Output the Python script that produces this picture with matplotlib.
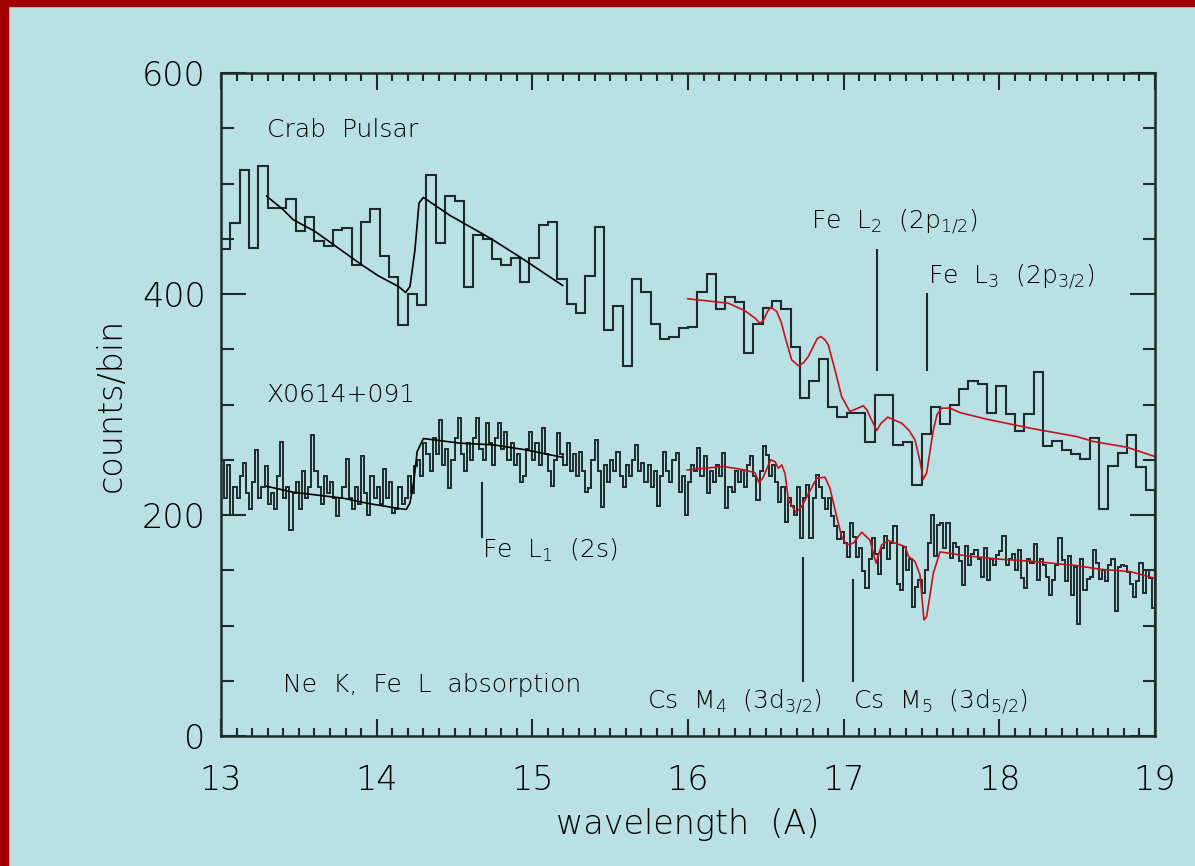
import numpy as np
import matplotlib
matplotlib.use("Agg")
import matplotlib.pyplot as plt
from matplotlib.patches import Rectangle
from matplotlib.ticker import MultipleLocator

plt.rcParams['font.family'] = ['DejaVu Sans']
plt.rcParams['font.weight'] = 'light'
plt.rcParams['axes.labelweight'] = 'light'
plt.rcParams['mathtext.fontset'] = 'custom'
plt.rcParams['mathtext.rm'] = 'DejaVu Sans:light'
plt.rcParams['mathtext.it'] = 'DejaVu Sans:light'

BG = '#b9e0e3'
INK = '#1e2b2b'
RED = '#c8101e'

# Crab pulsar, 0.06 A bins starting at 12.94
crab_start = 12.94
crab_width = 0.06
crab_counts = [476,
    441, 464, 512, 442, 516, 478, 478, 486, 457, 470,
    448, 443, 458, 460, 426, 465, 477, 434, 415, 372,
    400, 390, 508, 446, 489, 484, 406, 453, 450, 432,
    426, 433, 411, 433, 462, 465, 414, 391, 383, 416,
    461, 367, 389, 335, 414, 402, 373, 359, 361, 369,
    370, 402, 418, 386, 397, 393, 347, 373, 387, 394,
    386, 352, 306, 321, 341, 298, 289, 292, 292, 266,
    309, 309, 263, 266, 227, 273, 298, 282, 300, 314,
    321, 319, 292, 317, 291, 276, 291, 329, 262, 267,
    259, 255, 251, 270, 205, 244, 256, 272, 243, 223]

# X0614+091, 0.02 A bins starting at 13.00
x0614_start = 13.00
x0614_width = 0.02
x0614_counts = [
    250, 215, 245, 200, 225, 215, 235, 247, 220, 205,
    230, 259, 215, 225, 244, 210, 220, 205, 235, 266,
    215, 225, 186, 220, 230, 205, 240, 215, 225, 272,
    240, 225, 210, 235, 220, 230, 215, 199, 215, 225,
    251, 215, 205, 225, 210, 253, 220, 200, 235, 215,
    225, 210, 242, 215, 230, 202, 205, 225, 210, 215,
    235, 220, 244, 250, 235, 265, 255, 240, 270, 255,
    286, 245, 260, 224, 250, 270, 288, 255, 240, 265,
    250, 270, 288, 260, 250, 283, 265, 245, 270, 283,
    260, 275, 250, 265, 245, 255, 230, 235, 260, 275,
    250, 265, 245, 279, 255, 240, 226, 250, 274, 255,
    245, 265, 240, 255, 235, 257, 240, 221, 224, 250,
    268, 240, 207, 245, 230, 250, 240, 257, 235, 225,
    245, 235, 250, 263, 240, 247, 230, 245, 225, 240,
    208, 235, 257, 240, 230, 250, 256, 221, 235, 200,
    230, 245, 240, 261, 235, 253, 220, 240, 230, 245,
    235, 256, 206, 225, 221, 240, 230, 241, 225, 245,
    253, 235, 214, 240, 262, 254, 235, 245, 230, 212,
    225, 194, 215, 208, 200, 225, 179, 215, 227, 179,
    215, 236, 225, 215, 205, 215, 199, 190, 178, 185,
    175, 162, 193, 180, 162, 170, 149, 134, 160, 179,
    165, 147, 170, 181, 160, 175, 190, 138, 132, 171,
    150, 160, 117, 135, 141, 129, 150, 175, 200, 163,
    191, 193, 170, 193, 161, 175, 171, 158, 137, 172,
    155, 165, 168, 160, 144, 170, 141, 160, 155, 164,
    167, 181, 155, 160, 165, 150, 168, 143, 134, 160,
    157, 174, 141, 160, 155, 144, 128, 141, 155, 179,
    159, 140, 163, 128, 153, 101, 160, 132, 142, 144,
    168, 157, 142, 150, 140, 155, 160, 113, 153, 155,
    154, 148, 138, 126, 140, 157, 129, 150, 143, 116]

# continuum fits (black) and edge models (red)
crab_fit_x = [13.293, 13.40, 13.464, 13.604, 13.904, 14.01, 14.14, 14.186,
              14.214, 14.246, 14.272, 14.30, 14.471, 14.728, 14.921, 15.195]
crab_fit_y = [488.6, 476.2, 467.2, 456.6, 426.4, 416.5, 406.8, 401.4,
              406.8, 440.0, 482.3, 487.4, 471.1, 450.6, 433.4, 407.7]

crab_mod_x = [15.998, 16.259, 16.366, 16.43, 16.462, 16.484, 16.51, 16.533,
              16.57, 16.60, 16.623, 16.666, 16.709, 16.74, 16.773, 16.81,
              16.83, 16.854, 16.88, 16.901, 16.944, 16.987, 17.04, 17.08,
              17.126, 17.15, 17.169, 17.212, 17.24, 17.283, 17.373, 17.42,
              17.458, 17.491, 17.511, 17.533, 17.555, 17.576, 17.60, 17.63,
              17.683, 17.747, 17.919, 18.197, 18.497, 18.604, 18.818, 19.0]
crab_mod_y = [395.7, 391.7, 384.8, 378.2, 373.6, 376.0, 384.0, 388.1,
              384.2, 374.0, 361.5, 340.4, 335.0, 337.5, 343.4, 354.0,
              359.5, 361.5, 358.5, 354.0, 331.4, 307.2, 293.6, 296.0,
              298.8, 295.0, 289.1, 276.4, 283.0, 288.5, 283.1, 276.5,
              268.0, 248.4, 232.4, 237.8, 258.0, 277.0, 291.0, 296.7,
              296.7, 292.7, 286.7, 278.6, 271.0, 266.5, 261.4, 252.9]

x0614_fit_x = [13.293, 13.464, 13.786, 13.936, 14.128, 14.19, 14.214, 14.24,
               14.26, 14.30, 14.535, 14.75, 14.96, 15.19]
x0614_fit_y = [226.0, 220.6, 215.2, 210.7, 206.2, 205.0, 211.0, 231.8,
               257.4, 269.2, 265.0, 263.5, 258.9, 252.3]

x0614_mod_x = [15.995, 16.227, 16.334, 16.43, 16.456, 16.48, 16.531, 16.559,
               16.58, 16.602, 16.623, 16.645, 16.694, 16.73, 16.827, 16.88,
               16.912, 16.955, 16.987, 17.019, 17.062, 17.116, 17.169, 17.208,
               17.244, 17.287, 17.394, 17.416, 17.458, 17.49, 17.516, 17.533,
               17.576, 17.619, 17.79, 18.004, 18.218, 18.497, 18.647, 18.84, 19.0]
x0614_mod_y = [240.8, 243.9, 241.5, 238.4, 229.3, 233.3, 249.9, 248.4,
               242.3, 245.3, 237.8, 213.7, 202.2, 207.7, 233.3, 234.2,
               224.2, 198.6, 180.5, 173.0, 174.5, 184.4, 177.3, 156.4,
               173.0, 176.9, 171.4, 162.6, 158.0, 145.9, 105.0, 108.0,
               147.3, 166.6, 163.0, 160.0, 158.0, 154.2, 150.9, 148.8, 142.7]

# absorption edge markers: (wavelength, y_low, y_high)
edges = [(14.675, 180, 229), (17.216, 331, 440), (17.537, 331, 400),
         (16.737, 50, 161), (17.058, 50, 141)]

labels = [
    (13.295, 548, 'Crab  Pulsar'),
    (13.295, 309, 'X0614+091'),
    (13.40, 46, 'Ne  K,  Fe  L  absorption'),
    (14.677, 168, r'Fe  L$_1$  (2s)'),
    (16.79, 465, r'Fe  L$_2$  (2p$_{1/2}$)'),
    (17.54, 415, r'Fe  L$_3$  (2p$_{3/2}$)'),
    (15.737, 31, r'Cs  M$_4$  (3d$_{3/2}$)'),
    (17.06, 31, r'Cs  M$_5$  (3d$_{5/2}$)'),
]


def hist_steps(start, width, counts):
    edges_ = start + width * np.arange(len(counts) + 1)
    return edges_, np.asarray(counts, dtype=float)


fig = plt.figure(figsize=(11.95, 8.66), dpi=100, facecolor=BG)
fig.patches.append(Rectangle((0, 0), 8 / 1195, 1, transform=fig.transFigure,
                             color='#a00000', zorder=0))
fig.patches.append(Rectangle((0, 1 - 6 / 866), 1, 6 / 866, transform=fig.transFigure,
                             color='#a00000', zorder=0))

ax = fig.add_axes([221 / 1195, 130 / 866, 934 / 1195, 663 / 866])
ax.set_facecolor(BG)

e, c = hist_steps(crab_start, crab_width, crab_counts)
ax.stairs(c, e, color=INK, lw=1.5)
e, c = hist_steps(x0614_start, x0614_width, x0614_counts)
ax.stairs(c, e, color=INK, lw=1.4)

ax.plot(crab_fit_x, crab_fit_y, color='black', lw=1.2)
ax.plot(x0614_fit_x, x0614_fit_y, color='black', lw=1.2)
ax.plot(crab_mod_x, crab_mod_y, color=RED, lw=1.2)
ax.plot(x0614_mod_x, x0614_mod_y, color=RED, lw=1.2)

for wl, lo, hi in edges:
    ax.plot([wl, wl], [lo, hi], color=INK, lw=1.5)

for x, y, s in labels:
    ax.text(x, y, s, fontsize=18, color='black', ha='left', va='center')

ax.set_xlim(13, 19)
ax.set_ylim(0, 600)
ax.xaxis.set_major_locator(MultipleLocator(1))
ax.xaxis.set_minor_locator(MultipleLocator(0.1))
ax.yaxis.set_major_locator(MultipleLocator(200))
ax.yaxis.set_minor_locator(MultipleLocator(50))
ax.tick_params(which='both', direction='in', top=True, right=True, color=INK,
               width=1.5, labelsize=24, labelcolor='black')
ax.tick_params(axis='x', which='major', length=12, pad=20)
ax.tick_params(axis='x', which='minor', length=6)
ax.tick_params(axis='y', which='major', length=18, pad=11)
ax.tick_params(axis='y', which='minor', length=9)
for sp in ax.spines.values():
    sp.set_color(INK)
    sp.set_linewidth(1.8)

ax.set_xlabel('wavelength  (A)', fontsize=24, labelpad=8)
ax.set_ylabel('counts/bin', fontsize=24, labelpad=10)

fig.savefig('out.png', dpi=100, facecolor=BG)
